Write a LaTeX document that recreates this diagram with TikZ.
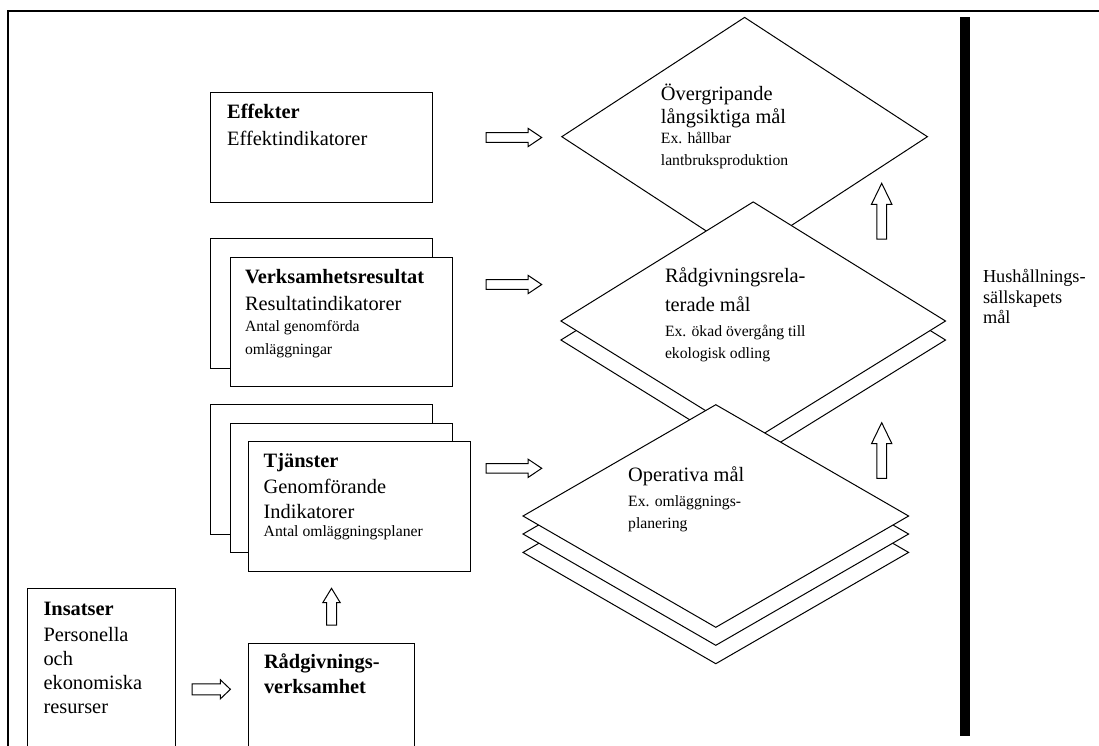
\documentclass[tikz,border=0pt]{standalone}
\usepackage{fontspec}
\setmainfont{Liberation Serif}
\usetikzlibrary{shapes.geometric}

\tikzset{
    box/.style={draw, line width=1pt, fill=white, anchor=north west,
        inner sep=0pt, minimum width=222pt, minimum height=129.5pt},
    txt/.style={anchor=north west, inner sep=0pt, align=left,
        font=\fontsize{20.4}{24}\selectfont},
    goal/.style={diamond, draw, line width=1pt, fill=white, inner sep=0pt},
    opgoal/.style={goal, minimum width=386pt, minimum height=223pt},
    blockarr/.style={draw, line width=1pt, fill=white},
}
\newcommand{\smalltxt}{\fontsize{15.7}{18}\selectfont}

\begin{document}
\begin{tikzpicture}[x=1pt, y=-1pt]
    \useasboundingbox (0,0) rectangle (1099,745);
    \clip (0,0) rectangle (1099,745);
    % frame and bar
    \draw[line width=2.3pt] (1110,10.7) -- (7.7,10.7) -- (7.7,760);
    \fill (960,17.3) rectangle (970.3,736);

    % goal diamonds
    \node[goal, minimum width=366pt, minimum height=239pt] (overgr) at (744.6,136.7) {};
    \node[goal, minimum width=385pt, minimum height=238.6pt] (radrelB) at (753.2,340) {};
    \node[goal, minimum width=385pt, minimum height=238.6pt] (radrel) at (753.2,321) {};
    \node[opgoal] (operB2) at (715.8,552.4) {};
    \node[opgoal] (operB1) at (715.8,534) {};
    \node[opgoal] (oper) at (715.8,516) {};

    \node[txt] (overgrT) at (660.7,83.2) {\strut Övergripande\\[-0.7pt] långsiktiga mål\\[-4pt]
        {\smalltxt Ex. hållbar}\\[-2.3pt] {\smalltxt lantbruksproduktion}};
    \node[txt] (radrelT) at (664.8,265.4) {\strut Rådgivningsrela-\\[5pt] terade mål\\[1pt]
        {\smalltxt Ex. ökad övergång till}\\[-2.4pt] {\smalltxt ekologisk odling}};
    \node[txt] (operT) at (628,464.9) {\strut Operativa mål\\[1pt]
        {\smalltxt Ex. omläggnings-}\\[-2.4pt] {\smalltxt planering}};
    \node[txt, font=\fontsize{18.3}{20.5}\selectfont] (husT) at (982.8,268.3)
        {\strut Hushållnings-\\ sällskapets\\ mål};

    % boxes
    \node[box, minimum height=110.6pt] (effekter) at (210,91.7) {};
    \node[box] (verksB) at (210,238) {};
    \node[box] (verks) at (229.7,256.7) {};
    \node[box] (tjanB2) at (210,404) {};
    \node[box] (tjanB1) at (229.7,422.7) {};
    \node[box] (tjan) at (248,441) {};
    \node[box, minimum width=148pt, minimum height=200pt] (insatser) at (27.4,588.3) {};
    \node[box, minimum width=166pt, minimum height=150pt] (radgiv) at (248,643.3) {};

    \node[txt] (effekterT) at (227,101.2) {\strut\textbf{Effekter}\\[3pt] Effektindikatorer};
    \node[txt] (verksT) at (244.8,266.2) {\strut\textbf{Verksamhetsresultat}\\[3.7pt]
        Resultatindikatorer\\[-3pt] {\smalltxt Antal genomförda}\\[-1.7pt] {\smalltxt omläggningar}};
    \node[txt] (tjanT) at (263.5,450.5) {\strut\textbf{Tjänster}\\[2pt] Genomförande\\[1pt]
        Indikatorer\\[-5.6pt] {\smalltxt Antal omläggningsplaner}};
    \node[txt] (insatserT) at (43.3,598.2) {\strut\textbf{Insatser}\\[2.7pt] Personella\\ och\\
        ekonomiska\\ resurser};
    \node[txt] (radgivT) at (263.8,651.5) {\strut\textbf{Rådgivnings-}\\[1pt] \textbf{verksamhet}};

    % block arrows
    \coordinate (effArr) at (486,137.5);
    \coordinate (verksArr) at (486,284.5);
    \coordinate (tjanArr) at (486,468.3);
    \coordinate (insArr) at (192.2,689.3);
    \coordinate (radrelArr) at (881.7,239);
    \coordinate (operArr) at (881.7,478.3);
    \coordinate (radgivArr) at (331.5,625);
    \draw[blockarr] (effArr) ++(0,-4.8) -- ++(42,0) -- ++(0,-4.4) -- ++(13.7,9.2)
        -- ++(-13.7,9.2) -- ++(0,-4.4) -- ++(-42,0) -- cycle;
    \draw[blockarr] (verksArr) ++(0,-4.8) -- ++(42,0) -- ++(0,-4.4) -- ++(13.7,9.2)
        -- ++(-13.7,9.2) -- ++(0,-4.4) -- ++(-42,0) -- cycle;
    \draw[blockarr] (tjanArr) ++(0,-4.8) -- ++(42,0) -- ++(0,-4.4) -- ++(13.7,9.2)
        -- ++(-13.7,9.2) -- ++(0,-4.4) -- ++(-42,0) -- cycle;
    \draw[blockarr] (insArr) ++(0,-5.5) -- ++(28.1,0) -- ++(0,-4.1) -- ++(10.1,9.6)
        -- ++(-10.1,9.6) -- ++(0,-4.1) -- ++(-28.1,0) -- cycle;
    \draw[blockarr] (radrelArr) ++(-4.8,0) -- ++(0,-34.7) -- ++(-5.4,0) -- ++(10.2,-21)
        -- ++(10.2,21) -- ++(-5.4,0) -- ++(0,34.7) -- cycle;
    \draw[blockarr] (operArr) ++(-4.8,0) -- ++(0,-34.6) -- ++(-5.4,0) -- ++(10.2,-21)
        -- ++(10.2,21) -- ++(-5.4,0) -- ++(0,34.6) -- cycle;
    \draw[blockarr] (radgivArr) ++(-5,0) -- ++(0,-22.3) -- ++(-3.75,0) -- ++(8.75,-14.4)
        -- ++(8.75,14.4) -- ++(-3.75,0) -- ++(0,22.3) -- cycle;
\end{tikzpicture}
\end{document}
